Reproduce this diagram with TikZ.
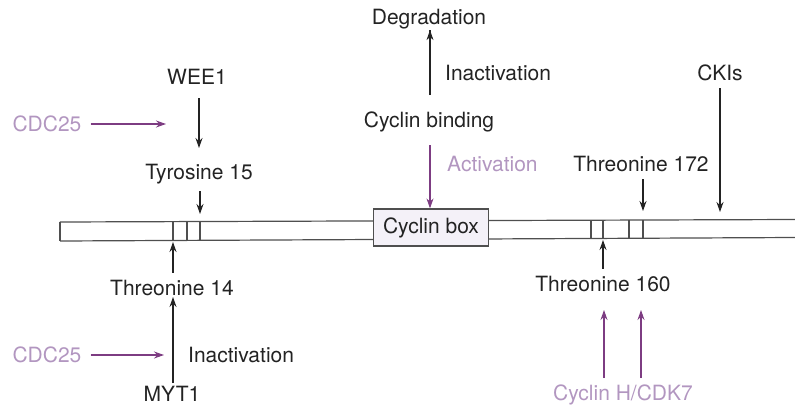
\documentclass[tikz,border=0pt]{standalone}
\usepackage{fontspec}
\setmainfont{TeX Gyre Heros}
\usetikzlibrary{arrows.meta}
\definecolor{ink}{RGB}{35,35,35}
\definecolor{plum}{RGB}{125,60,130}
\definecolor{plumtext}{RGB}{178,150,192}
\definecolor{boxfill}{RGB}{244,241,248}
\tikzset{
  lbl/.style={font=\fontsize{21}{24}\selectfont, text=ink, inner sep=1pt},
  plbl/.style={lbl, text=plumtext},
  arr/.style={draw=ink, line width=1.1pt, -{Stealth[length=10pt,width=7pt]}},
  parr/.style={arr, draw=plum, fill=plum},
  barline/.style={draw=ink!80, line width=1.2pt},
}
\begin{document}
\begin{tikzpicture}[x=1pt,y=-1pt]
\useasboundingbox (0,0) rectangle (795,410);

% protein bar
\draw[barline, fill=white] (60,222) -- (795,219.5) (60,241) -- (795,237.5);
\draw[barline] (60,222) -- (60,241);
% phosphorylation site marks
\foreach \x/\a/\b in {173/222/241,187/222/241,200/222/241,591/220.5/238.5,603/220.5/238.5,629/220/238,643/220/238}
  \draw[barline] (\x,\a) -- (\x,\b);

\node[draw=ink!80, line width=1.2pt, fill=boxfill, minimum width=115pt, minimum height=37pt, lbl] (cbox) at (431,227.5) {Cyclin box};

% anchor points on the bar
\coordinate (y15) at (200,214);
\coordinate (t14) at (173,242);
\coordinate (t172) at (643,211);
\coordinate (t160) at (603,240);
\coordinate (cki) at (720,212);

% labels
\node[lbl] (wee) at (197,77) {WEE1};
\node[plbl] (cdcA) at (47,124) {CDC25};
\coordinate (cdcAend) at (166,124);
\node[lbl] (tyr) at (199,174) {Tyrosine 15};
\node[lbl] (deg) at (429,19) {Degradation};
\node[lbl, anchor=west] (inact1) at (444,73) {Inactivation};
\node[lbl] (cbind) at (429,122) {Cyclin binding};
\node[plbl, anchor=west] (act) at (446,164) {Activation};
\node[lbl] (thr172) at (641,164) {Threonine 172};
\node[lbl] (ckis) at (720,73) {CKIs};
\node[lbl] (thr14) at (172,288) {Threonine 14};
\node[plbl] (cdcB) at (47,355) {CDC25};
\coordinate (cdcBend) at (164,355);
\node[lbl, anchor=west] (inact2) at (187,355) {Inactivation};
\node[lbl] (myt) at (172,394) {MYT1};
\node[lbl] (thr160) at (603,284) {Threonine 160};
\node[plbl] (cyh) at (623,395) {Cyclin H/CDK7};

% connectors
\draw[arr] (199,98) -- (199,148);
\draw[parr] (cdcA.east) ++(8,0) -- (cdcAend);
\draw[arr] (tyr.south -| y15) ++(0,6) -- (y15);
\draw[arr] (430,95) -- (deg.south -| 430,0) ++(0,0);
\draw[parr] (430,145) -- (cbox.north -| 430,0);
\draw[arr] (thr172.south -| t172) ++(0,6) -- (t172);
\draw[arr] (ckis.south) ++(0,6) -- (cki);
\draw[arr] (thr14.north -| t14) ++(0,-6) -- (t14);
\draw[arr] (myt.north -| 173,0) ++(0,-2) -- (thr14.south -| 173,0);
\draw[parr] (cdcB.east) ++(8,0) -- (cdcBend);
\draw[arr] (thr160.north -| t160) ++(0,-6) -- (t160);
\draw[parr] (604,378) -- (604,310);
\draw[parr] (641,378) -- (641,310);
\end{tikzpicture}
\end{document}
